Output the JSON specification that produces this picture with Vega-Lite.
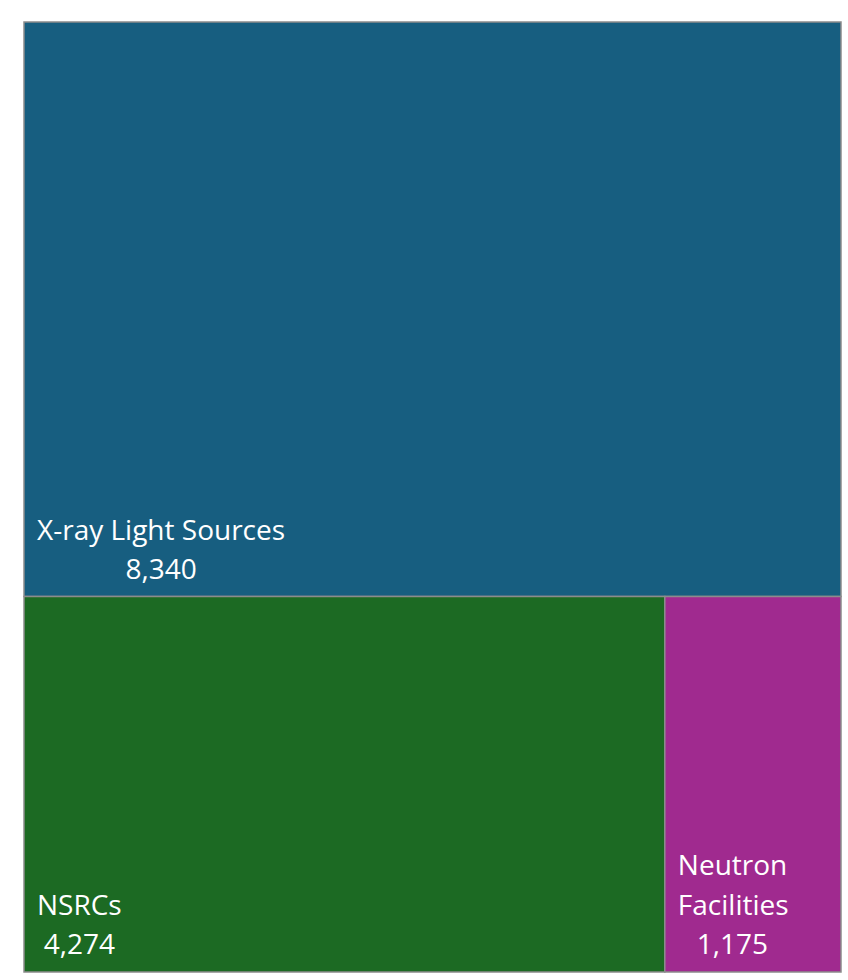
{
  "$schema": "https://vega.github.io/schema/vega-lite/v6.json",
  "width": 817,
  "height": 950,
  "padding": {"left": 24, "top": 22, "right": 7, "bottom": 8},
  "autosize": {"type": "none"},
  "background": "#ffffff",
  "config": {"view": {"stroke": null}},
  "data": {
    "values": [
      {"name": "X-ray Light Sources", "value": 8340, "row": 1, "order": 1},
      {"name": "NSRCs", "value": 4274, "row": 2, "order": 1},
      {"name": "Neutron Facilities", "value": 1175, "row": 2, "order": 2}
    ]
  },
  "transform": [
    {"joinaggregate": [{"op": "sum", "field": "value", "as": "total"}]},
    {"joinaggregate": [{"op": "sum", "field": "value", "as": "rowTotal"}], "groupby": ["row"]},
    {"window": [{"op": "sum", "field": "value", "as": "cumAll"}], "sort": [{"field": "row"}], "frame": [null, 0], "ignorePeers": false},
    {"window": [{"op": "sum", "field": "value", "as": "cumRow"}], "groupby": ["row"], "sort": [{"field": "order"}], "frame": [null, 0]},
    {"calculate": "(datum.cumAll - datum.rowTotal) / datum.total", "as": "y0"},
    {"calculate": "datum.cumAll / datum.total", "as": "y1"},
    {"calculate": "(datum.cumRow - datum.value) / datum.rowTotal", "as": "x0"},
    {"calculate": "datum.cumRow / datum.rowTotal", "as": "x1"},
    {"calculate": "datum.x1 - datum.x0 < 0.3", "as": "narrow"},
    {"calculate": "datum.narrow ? split(datum.name, ' ')[0] : ''", "as": "nameTop"},
    {"calculate": "datum.narrow ? peek(split(datum.name, ' ')) : datum.name", "as": "nameBottom"},
    {"calculate": "length(replace(datum.name, /[^A-Z]/g, ''))", "as": "caps"},
    {"calculate": "datum.narrow ? (length(datum.name) - 1) / 2 + datum.caps / 4 : length(datum.name) + datum.caps / 2", "as": "effLen"},
    {"calculate": "format(datum.value, ',')", "as": "valueLabel"},
    {"calculate": "datum.x0 + (13 + datum.effLen * 6.05) / 817", "as": "xv"}
  ],
  "encoding": {
    "y": {"field": "y1", "type": "quantitative", "scale": {"domain": [0, 1], "reverse": true, "nice": false, "zero": false}, "axis": null}
  },
  "layer": [
    {
      "mark": {"type": "rect", "stroke": "#8c8c8c", "strokeWidth": 1.5},
      "encoding": {
        "x": {"field": "x0", "type": "quantitative", "scale": {"domain": [0, 1], "nice": false, "zero": false}, "axis": null},
        "x2": {"field": "x1"},
        "y": {"field": "y0", "type": "quantitative", "scale": {"domain": [0, 1], "reverse": true, "nice": false, "zero": false}, "axis": null},
        "y2": {"field": "y1"},
        "color": {
          "field": "name",
          "type": "nominal",
          "scale": {"domain": ["X-ray Light Sources", "NSRCs", "Neutron Facilities"], "range": ["#175e80", "#1c6a23", "#a02a8f"]},
          "legend": null
        }
      }
    },
    {
      "mark": {"type": "text", "align": "left", "baseline": "bottom", "dx": 13, "dy": -91, "fontSize": 28, "font": "Open Sans", "color": "#ffffff"},
      "encoding": {
        "x": {"field": "x0", "type": "quantitative"},
        "text": {"field": "nameTop"}
      }
    },
    {
      "mark": {"type": "text", "align": "left", "baseline": "bottom", "dx": 13, "dy": -51, "fontSize": 28, "font": "Open Sans", "color": "#ffffff"},
      "encoding": {
        "x": {"field": "x0", "type": "quantitative"},
        "text": {"field": "nameBottom"}
      }
    },
    {
      "mark": {"type": "text", "align": "center", "baseline": "bottom", "dy": -12, "fontSize": 28, "font": "Open Sans", "color": "#ffffff"},
      "encoding": {
        "x": {"field": "xv", "type": "quantitative"},
        "text": {"field": "valueLabel"}
      }
    }
  ]
}
